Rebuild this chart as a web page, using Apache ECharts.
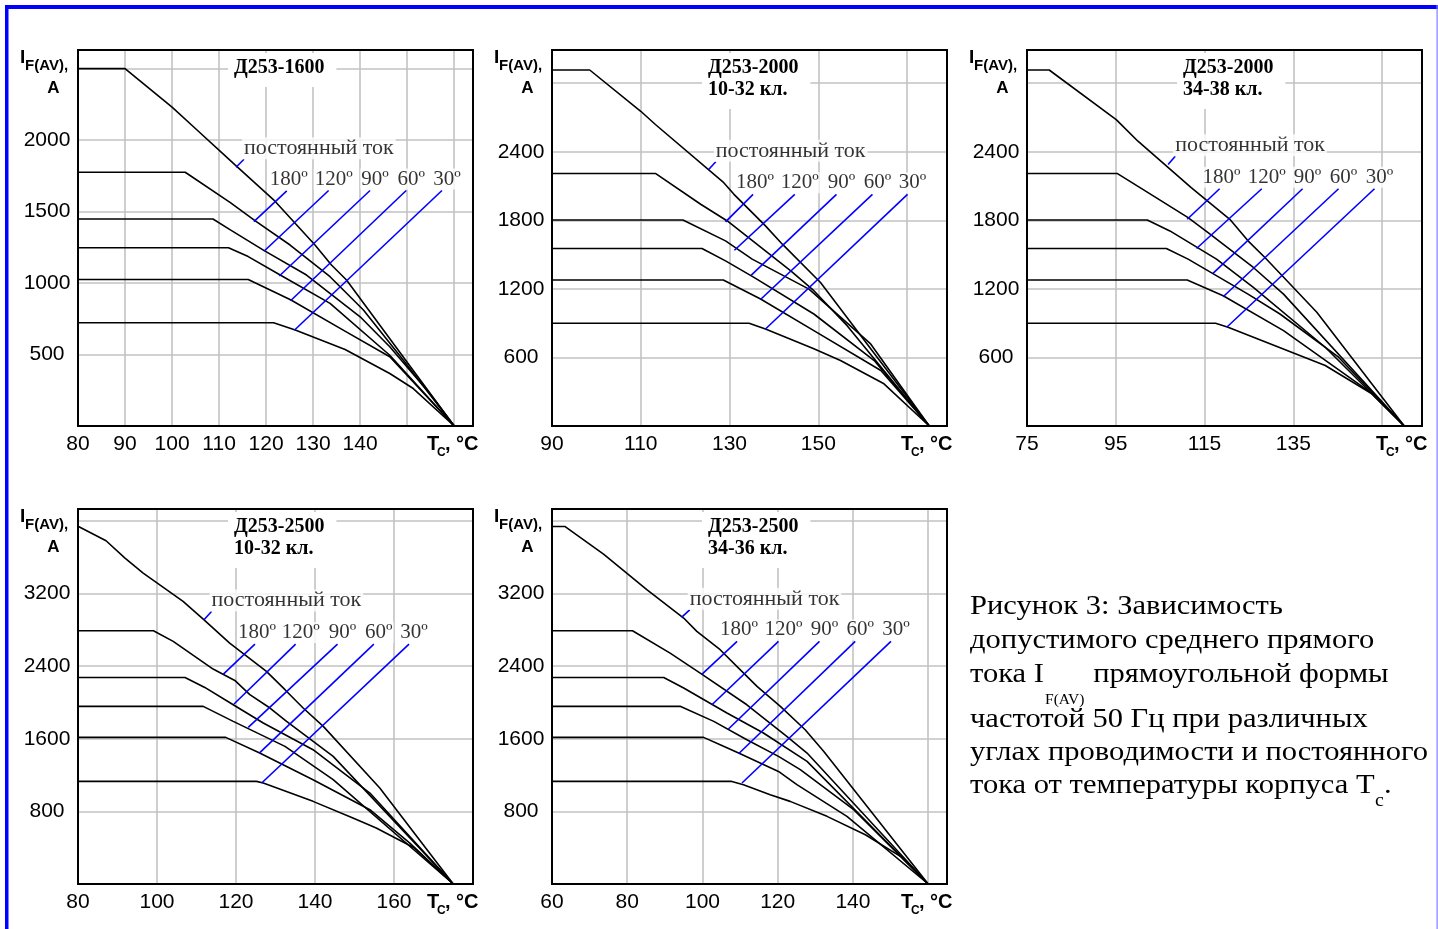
<!DOCTYPE html>
<html><head><meta charset="utf-8">
<script src="https://cdn.jsdelivr.net/npm/echarts@6/dist/echarts.min.js"></script>
<style>html,body{margin:0;padding:0;background:#fff;overflow:hidden}#c{width:1438px;height:929px}</style>
</head><body><div id="c"></div>
<script>
// ---------------- DATA ----------------
const panelTitles = ['Д253-1600', 'Д253-2000\n10-32 кл.', 'Д253-2000\n34-38 кл.', 'Д253-2500\n10-32 кл.', 'Д253-2500\n34-36 кл.'];
const curveNames = ['постоянный ток', '180º', '120º', '90º', '60º', '30º'];

const xMins = [80, 90, 75, 80, 60];
const xMaxs = [164, 179, 164, 180, 165];
const xSteps = [10, 20, 20, 20, 20];
const xTickLabels1 = [80, 90, 100, 110, 120, 130, 140];
const xTickLabels2 = [90, 110, 130, 150];
const xTickLabels3 = [75, 95, 115, 135];
const xTickLabels4 = [80, 100, 120, 140, 160];
const xTickLabels5 = [60, 80, 100, 120, 140];

const yMaxs = [2630, 3290, 3290, 4130, 4130];
const ySteps = [500, 600, 600, 800, 800];
const yTickLabels1 = [500, 1000, 1500, 2000];
const yTickLabels2 = [600, 1200, 1800, 2400];
const yTickLabels3 = [600, 1200, 1800, 2400];
const yTickLabels4 = [800, 1600, 2400, 3200];
const yTickLabels5 = [800, 1600, 2400, 3200];

// Panel 1: Д253-1600
const p1_dc  = [[80,2500],[90,2500],[100,2230],[104.5,2095],[113.4,1827],[121.6,1582],[130.4,1266],[133.9,1126],[137.1,1021],[160,0]];
const p1_180 = [[80,1775],[102.8,1775],[112.4,1563],[117.7,1435],[125.1,1266],[133.6,1044],[140.7,811],[149.2,460],[160,0]];
const p1_120 = [[80,1448],[108.7,1448],[112.4,1372],[119.6,1227],[128.6,1056],[140,764],[146.3,554],[154.8,227],[160,0]];
const p1_90  = [[80,1247],[112,1247],[116.2,1185],[123,1056],[133.6,858],[146.3,495],[160,0]];
const p1_60  = [[80,1025],[116.2,1025],[125.3,881],[136.4,671],[146.3,484],[160,0]];
const p1_30  = [[80,722],[121.6,722],[126.2,671],[136.8,535],[146.3,367],[151.3,262],[160,0]];
const p1_leaders = [[[113.6,1810],[115.3,1866]],[[117.4,1430],[124.4,1645]],[[119.6,1224],[133.3,1647]],[[122.8,1049],[142.1,1647]],[[125.2,876],[149.8,1647]],[[126.0,670],[157.4,1647]]];

// Panel 2: Д253-2000 10-32
const p2_dc  = [[90,3115],[98.5,3115],[110,2754],[113.3,2638],[128.7,2129],[131,2027],[138.1,1751],[141.9,1591],[150.5,1256],[175,0]];
const p2_180 = [[90,2210],[113.3,2210],[123.5,1940],[129.5,1794],[143.8,1358],[149,1184],[156.5,878],[175,0]];
const p2_120 = [[90,1803],[119.5,1803],[129.1,1620],[135.1,1460],[147.9,1198],[161.8,718],[175,0]];
const p2_90  = [[90,1553],[123.8,1553],[129.1,1445],[135.5,1300],[149,980],[162.6,573],[175,0]];
const p2_60  = [[90,1277],[128.6,1277],[137,1111],[149,835],[164.1,486],[175,0]];
const p2_30  = [[90,899],[134.4,899],[138.1,849],[149,675],[155,573],[164.8,369],[175,0]];
const p2_leaders = [[[125.3,2245],[126.9,2312]],[[129.1,1786],[135.3,2027]],[[131.1,1538],[144.7,2027]],[[134.9,1320],[154.1,2027]],[[137.1,1111],[162.2,2027]],[[138.1,849],[170.1,2027]]];

// Panel 3: Д253-2000 34-38
const p3_dc  = [[75,3115],[80,3115],[95.1,2681],[100,2492],[112,2085],[120.7,1809],[124.8,1620],[128.6,1474],[140.3,995],[160,0]];
const p3_180 = [[75,2210],[95.3,2210],[101.1,2071],[111.3,1823],[115.8,1692],[126,1387],[132.8,1154],[160,0]];
const p3_120 = [[75,1803],[102.1,1803],[107.2,1707],[117.7,1460],[126,1213],[142.2,689],[160,0]];
const p3_90  = [[75,1553],[106.4,1553],[111.3,1460],[124.8,1154],[132,980],[145.2,602],[160,0]];
const p3_60  = [[75,1277],[111.1,1277],[119.2,1140],[132.8,835],[152.3,297],[160,0]];
const p3_30  = [[75,899],[117.5,899],[120.3,864],[142.2,529],[152.7,282],[160,0]];
const p3_leaders = [[[106.8,2289],[108.4,2361]],[[111.1,1809],[118.4,2076]],[[113.2,1553],[127.9,2076]],[[116.9,1335],[137.1,2076]],[[119.2,1131],[145.2,2076]],[[120.0,864],[153.3,2076]]];

// Panel 4: Д253-2500 10-32
const p4_dc  = [[80,3940],[87.1,3780],[91.9,3589],[96.5,3424],[106.6,3112],[111.7,2918],[118.4,2653],[127.7,2341],[132.4,2140],[137,1938],[142.1,1736],[156.4,1057],[175,0]];
const p4_180 = [[80,2789],[99.1,2789],[104.1,2672],[114.2,2367],[119.7,2242],[123.5,2085],[128.6,1938],[132.8,1791],[144.6,1406],[175,0]];
const p4_120 = [[80,2275],[107.1,2275],[112.1,2165],[119.3,1974],[126.9,1773],[139.5,1479],[153.9,1002],[175,0]];
const p4_90  = [[80,1956],[111.7,1956],[119.3,1791],[132.4,1516],[144.6,1149],[175,0]];
const p4_60  = [[80,1615],[117.4,1615],[126,1442],[139.5,1149],[153.9,818],[164,451],[175,0]];
const p4_30  = [[80,1130],[125.2,1130],[126.9,1112],[139.5,910],[149.6,727],[155.5,617],[165.2,396],[175,0]];
const p4_leaders = [[[111.9,2910],[113.8,3002]],[[116.8,2312],[124.8,2642]],[[119.5,1982],[135.1,2642]],[[123.1,1725],[145.7,2642]],[[125.9,1442],[154.9,2642]],[[126.5,1112],[163.8,2642]]];

// Panel 5: Д253-2500 34-36
const p5_dc  = [[60,3938],[63.4,3938],[73.7,3633],[85.2,3241],[95,2929],[98.5,2782],[104.7,2580],[109.6,2378],[114.5,2176],[120.7,1956],[127.3,1699],[132.2,1461],[160,0]];
const p5_180 = [[60,2789],[81.4,2789],[91.4,2543],[99.4,2323],[111.8,1974],[122.4,1626],[127.8,1442],[160,0]];
const p5_120 = [[60,2275],[89.7,2275],[95,2158],[106.5,1883],[116.2,1663],[127.8,1350],[160,0]];
const p5_90  = [[60,1956],[94.2,1956],[103,1791],[111.8,1589],[120.2,1406],[126,1259],[140.2,818],[160,0]];
const p5_60  = [[60,1615],[100.3,1615],[105.6,1516],[109.6,1442],[120.2,1240],[125.1,1094],[138.4,745],[160,0]];
const p5_30  = [[60,1130],[107.8,1130],[110.9,1094],[118,984],[123.3,910],[133.1,745],[143.3,543],[152.6,305],[160,0]];
const p5_leaders = [[[94.5,2940],[96.6,3020]],[[99.9,2312],[109.2,2672]],[[102.5,1974],[120.2,2672]],[[106.9,1707],[131.1,2672]],[[109.6,1435],[140.6,2672]],[[110.5,1112],[150.1,2672]]];

const captionLine1 = 'Рисунок 3: Зависимость';
const captionLine2 = 'допустимого среднего прямого';
const captionLine3a = 'тока I';
const captionLine3sub = 'F(AV)';
const captionLine3b = ' прямоугольной формы';
const captionLine4 = 'частотой 50 Гц при различных';
const captionLine5 = 'углах проводимости и постоянного';
const captionLine6a = 'тока от температуры корпуса T';
const captionLine6sub = 'c';
const captionLine6b = '.';

// ---------------- LAYOUT / BUILD ----------------
const SANS = "'Liberation Sans', Arial, sans-serif";
const SERIF = "'Liberation Serif', 'Times New Roman', serif";
const gridRects = [
  {left: 78, top: 50, width: 395, height: 376},
  {left: 552, top: 50, width: 395, height: 376},
  {left: 1027, top: 50, width: 395, height: 376},
  {left: 78, top: 509, width: 395, height: 375},
  {left: 552, top: 509, width: 395, height: 375}
];
const labelOffsets = [[-2, -11], [2, 0], [5, 0], [5, 0], [5, 0], [5, 0]];
const panelCurves = [
  [p1_dc, p1_180, p1_120, p1_90, p1_60, p1_30],
  [p2_dc, p2_180, p2_120, p2_90, p2_60, p2_30],
  [p3_dc, p3_180, p3_120, p3_90, p3_60, p3_30],
  [p4_dc, p4_180, p4_120, p4_90, p4_60, p4_30],
  [p5_dc, p5_180, p5_120, p5_90, p5_60, p5_30]
];
const panelLeaders = [p1_leaders, p2_leaders, p3_leaders, p4_leaders, p5_leaders];
const xLabelSets = [xTickLabels1, xTickLabels2, xTickLabels3, xTickLabels4, xTickLabels5];
const yLabelSets = [yTickLabels1, yTickLabels2, yTickLabels3, yTickLabels4, yTickLabels5];

const grids = [], xAxes = [], yAxes = [], series = [], graphics = [];
const inSet = (set, v) => set.some(s => Math.abs(s - v) < 1e-6);

gridRects.forEach((r, i) => {
  grids.push({left: r.left, top: r.top, width: r.width, height: r.height, show: true,
    borderColor: '#000', borderWidth: 2, backgroundColor: 'transparent', z: 3, outerBoundsMode: 'none', containLabel: false});
  xAxes.push({type: 'value', gridIndex: i, min: xMins[i], max: xMaxs[i], interval: xSteps[i],
    axisLine: {show: false}, axisTick: {show: false},
    splitLine: {show: true, showMinLine: false, showMaxLine: false, lineStyle: {color: '#c2c2c2', width: 1.6}},
    axisLabel: {show: true, fontSize: 21, fontFamily: SANS, color: '#000', margin: 8, hideOverlap: false,
      showMinLabel: true, showMaxLabel: true,
      formatter: v => inSet(xLabelSets[i], v) ? String(v) : ''}});
  yAxes.push({type: 'value', gridIndex: i, min: 0, max: yMaxs[i], interval: ySteps[i],
    axisLine: {show: false}, axisTick: {show: false},
    splitLine: {show: true, showMinLine: false, showMaxLine: false, lineStyle: {color: '#c2c2c2', width: 1.6}},
    axisLabel: {show: true, fontSize: 21, fontFamily: SANS, color: '#000', margin: 31, align: 'center', hideOverlap: false,
      formatter: v => inSet(yLabelSets[i], v) ? String(v) : ''}});

  panelCurves[i].forEach((d, k) => {
    series.push({type: 'line', name: 'p' + i + '_' + k, xAxisIndex: i, yAxisIndex: i, data: d,
      symbol: 'none', silent: true, z: 4, lineStyle: {color: '#000', width: 1.6}});
  });
  panelLeaders[i].forEach((seg, k) => {
    series.push({type: 'line', xAxisIndex: i, yAxisIndex: i, data: seg, symbol: 'none', silent: true, z: 5,
      lineStyle: {color: '#0000ff', width: 1.6}});
    const isDc = k === 0;
    series.push({type: 'scatter', xAxisIndex: i, yAxisIndex: i, data: [seg[1]], symbolSize: 0, silent: true, z: 6,
      itemStyle: {color: 'transparent'},
      label: isDc ? {show: true, formatter: curveNames[k], position: 'right', distance: 0, offset: labelOffsets[k],
                     fontFamily: SERIF, fontSize: 22, color: '#000', backgroundColor: '#fff', padding: [0, 2]}
                  : {show: true, formatter: curveNames[k], position: 'top', distance: 1, offset: labelOffsets[k],
                     fontFamily: SERIF, fontSize: 21, color: '#000', backgroundColor: '#fff', padding: [0, 1]}});
  });

  const L = r.left, T = r.top, R = r.left + r.width, B = r.top + r.height;
  graphics.push({type: 'text', x: L + 150, y: T + 3, z: 20, silent: true,
    style: {text: panelTitles[i], fontFamily: SERIF, fontWeight: 'bold', fontSize: 20, lineHeight: 22,
      fill: '#000', backgroundColor: '#fff', padding: [4, 12, 8, 6], align: 'left', verticalAlign: 'top'}});
  graphics.push({type: 'text', x: L - 58, y: T + 8, z: 20, silent: true,
    style: {text: 'I', fontFamily: SANS, fontWeight: 'bold', fontSize: 19, fill: '#000', align: 'left', verticalAlign: 'middle'}});
  graphics.push({type: 'text', x: L - 53, y: T + 16, z: 20, silent: true,
    style: {text: 'F(AV),', fontFamily: SANS, fontWeight: 'bold', fontSize: 15, fill: '#000', align: 'left', verticalAlign: 'middle'}});
  graphics.push({type: 'text', x: L - 24.5, y: T + 38.5, z: 20, silent: true,
    style: {text: 'A', fontFamily: SANS, fontWeight: 'bold', fontSize: 17, fill: '#000', align: 'center', verticalAlign: 'middle'}});
  graphics.push({type: 'text', x: R - 46, y: B + 18, z: 20, silent: true,
    style: {text: 'T', fontFamily: SANS, fontWeight: 'bold', fontSize: 20, fill: '#000', align: 'left', verticalAlign: 'middle'}});
  graphics.push({type: 'text', x: R - 36, y: B + 27, z: 20, silent: true,
    style: {text: 'C', fontFamily: SANS, fontWeight: 'bold', fontSize: 12, fill: '#000', align: 'left', verticalAlign: 'middle'}});
  graphics.push({type: 'text', x: R - 28, y: B + 18, z: 20, silent: true,
    style: {text: ', °C', fontFamily: SANS, fontWeight: 'bold', fontSize: 20, fill: '#000', align: 'left', verticalAlign: 'middle'}});
});

// frame
graphics.push({type: 'rect', shape: {x: 5, y: 5, width: 1433, height: 4}, style: {fill: '#0000ff'}, z: 30, silent: true});
graphics.push({type: 'rect', shape: {x: 5, y: 5, width: 3.5, height: 930}, style: {fill: '#0000ff'}, z: 30, silent: true});
graphics.push({type: 'rect', shape: {x: 1436.5, y: 5, width: 1.2, height: 930}, style: {fill: '#8080ff'}, z: 30, silent: true});

// caption
const mctx = document.createElement('canvas').getContext('2d');
function measure(t, size) { mctx.font = size + 'px ' + SERIF; return mctx.measureText(t).width; }
const CAP = 27.5;
const capSx = (1428 - 970) / measure(captionLine5, CAP);
const capChildren = [];
function capText(t, x, baseline, size) {
  capChildren.push({type: 'text', x: x, y: baseline - size * 0.25, silent: true,
    style: {text: t, fontFamily: SERIF, fontSize: size, fill: '#000', align: 'left', verticalAlign: 'middle'}});
}
capText(captionLine1, 0, 614, CAP);
capText(captionLine2, 0, 648, CAP);
const w3a = measure(captionLine3a, CAP);
capText(captionLine3a, 0, 682, CAP);
const SUB1 = 14;
capChildren.push({type: 'text', x: w3a + 1, y: 700, silent: true,
  style: {text: captionLine3sub, fontFamily: SERIF, fontSize: SUB1, fill: '#000', align: 'left', verticalAlign: 'middle'}});
const w3sub = measure(captionLine3sub, SUB1);
capText(captionLine3b, w3a + 2 + w3sub, 682, CAP);
capText(captionLine4, 0, 727, CAP);
capText(captionLine5, 0, 760, CAP);
const w6a = measure(captionLine6a, CAP);
capText(captionLine6a, 0, 793, CAP);
const SUB2 = 18;
capChildren.push({type: 'text', x: w6a + 0.5, y: 801, silent: true,
  style: {text: captionLine6sub, fontFamily: SERIF, fontSize: SUB2, fill: '#000', align: 'left', verticalAlign: 'middle'}});
const w6sub = measure(captionLine6sub, SUB2);
capText(captionLine6b, w6a + 0.5 + w6sub, 793, CAP);
graphics.push({type: 'group', x: 970, y: 0, scaleX: capSx, scaleY: 1, z: 20, silent: true, children: capChildren});

const chart = echarts.init(document.getElementById('c'), null, {renderer: 'canvas'});
chart.setOption({
  backgroundColor: '#fff',
  animation: false,
  grid: grids, xAxis: xAxes, yAxis: yAxes, series: series,
  graphic: {elements: graphics}
});
</script>
</body></html>
